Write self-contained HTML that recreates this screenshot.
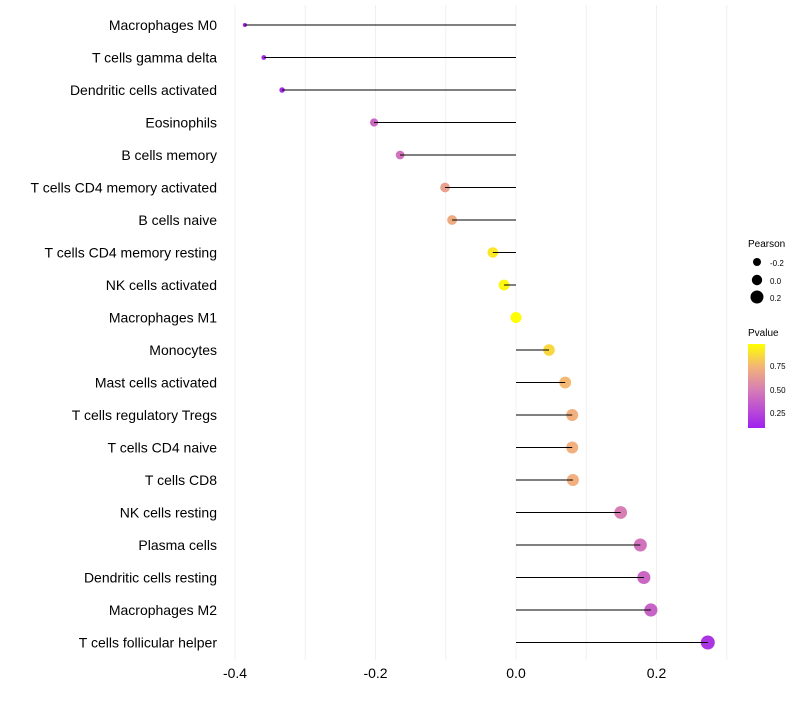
<!DOCTYPE html>
<html><head><meta charset="utf-8"><style>
body{margin:0;background:#fff;font-family:"Liberation Sans",sans-serif}
</style></head><body>
<svg id="c" width="800" height="700" xmlns="http://www.w3.org/2000/svg">
<defs><linearGradient id="pg" x1="0" y1="1" x2="0" y2="0">
<stop offset="0" stop-color="#a020f0"/><stop offset="0.45" stop-color="#d67cb6"/><stop offset="0.72" stop-color="#f2b27a"/><stop offset="1" stop-color="#ffff00"/></linearGradient></defs>
<g id="grid"></g><g id="marks"></g><g id="labels"></g>
<g font-size="10" fill="#000">
<text x="748" y="247">Pearson</text>
<circle cx="757" cy="262" r="4"/><text x="770" y="266" font-size="8">-0.2</text>
<circle cx="757" cy="280" r="5.2"/><text x="770" y="284" font-size="8">0.0</text>
<circle cx="757" cy="297" r="6.5"/><text x="770" y="301" font-size="8">0.2</text>
<text x="748" y="336">Pvalue</text>
<rect x="748" y="344" width="17" height="84" fill="url(#pg)"/>
<text x="770" y="369" font-size="8">0.75</text><text x="770" y="393" font-size="8">0.50</text><text x="770" y="416" font-size="8">0.25</text>
</g>
</svg>
<script>
const cells=["Macrophages M0","T cells gamma delta","Dendritic cells activated","Eosinophils","B cells memory","T cells CD4 memory activated","B cells naive","T cells CD4 memory resting","NK cells activated","Macrophages M1","Monocytes","Mast cells activated","T cells regulatory  Tregs ","T cells CD4 naive","T cells CD8","NK cells resting","Plasma cells","Dendritic cells resting","Macrophages M2","T cells follicular helper"];
const pearson=[-0.386,-0.359,-0.333,-0.202,-0.165,-0.101,-0.091,-0.033,-0.017,0.0,0.047,0.070,0.080,0.080,0.081,0.149,0.177,0.182,0.192,0.273];
const pvalue=[0.09,0.12,0.14,0.40,0.45,0.65,0.70,0.90,0.95,0.98,0.85,0.75,0.72,0.72,0.72,0.50,0.45,0.40,0.38,0.18];
const xTicks=[-0.4,-0.2,0.0,0.2];
const xGrid=[-0.4,-0.3,-0.2,-0.1,0,0.1,0.2,0.3];
const NS="http://www.w3.org/2000/svg";
const X=v=>516+v*702.5, Y=i=>25+i*32.5;
function mk(t,a,p){const e=document.createElementNS(NS,t);for(const k in a)e.setAttribute(k,a[k]);p.appendChild(e);return e;}
const stops=[[0,[160,32,240]],[0.45,[214,124,182]],[0.72,[242,178,122]],[1,[255,255,0]]];
function col(p){let t=(p-0.09)/(0.98-0.09);t=Math.max(0,Math.min(1,t));for(let i=1;i<stops.length;i++){if(t<=stops[i][0]){const a=stops[i-1],b=stops[i],f=(t-a[0])/(b[0]-a[0]);return 'rgb('+a[1].map((c,j)=>Math.round(c+(b[1][j]-c)*f)).join(',')+')';}}return 'rgb(255,255,0)';}
const grid=document.getElementById('grid'),marks=document.getElementById('marks'),labels=document.getElementById('labels');
xGrid.forEach(v=>{const l=mk('line',{x1:X(v),x2:X(v),y1:5,y2:660,stroke:'#f0f0f0','stroke-width':1},grid);

});
xTicks.forEach(v=>{const t=mk('text',{x:X(v),y:678,'text-anchor':'middle','font-size':14,fill:'#000'},labels);t.textContent=v.toFixed(1);

});
const pmin=Math.min(...pearson),pmax=Math.max(...pearson);
cells.forEach((c,i)=>{
const y=Y(i),v=pearson[i];
const tt=(v-pmin)/((pmax-pmin)||1);
const r=Math.sqrt(4+45*tt);
const pt=mk('circle',{cx:X(v),cy:y,r:r,fill:col(pvalue[i])},marks);


const sg=mk('line',{x1:X(0),x2:X(v),y1:y,y2:y,stroke:'#000','stroke-width':1},marks);


const t=mk('text',{x:217,y:y+5,'text-anchor':'end','font-size':14,fill:'#000'},labels);t.textContent=c;


});
</script>
</body></html>
